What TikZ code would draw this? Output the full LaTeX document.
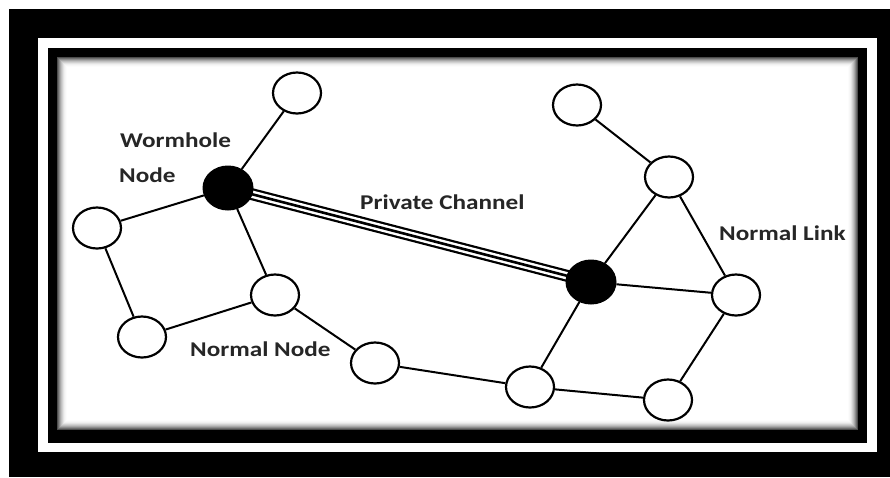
\documentclass[tikz,border=0pt]{standalone}
\usepackage{fontspec}
\setmainfont{Carlito}[FakeStretch=1.2]
\usetikzlibrary{shapes.geometric,backgrounds}
\begin{document}
\begin{tikzpicture}[x=1pt,y=-1pt,
  peer/.style={ellipse, draw=black, line width=2.2pt, fill=white,
               minimum width=48pt, minimum height=41pt, inner sep=0pt},
  hole/.style={ellipse, draw=black, fill=black, line width=1pt,
               minimum width=50pt, minimum height=44pt, inner sep=0pt},
  link/.style={line width=2pt},
  lbl/.style={anchor=base west, inner sep=0pt, text=black!85,
              font=\fontsize{21}{25}\selectfont\bfseries}]

\useasboundingbox (0,0) rectangle (890,477);

% network nodes
\node[peer] (n1) at (297,93)  {};
\node[hole] (w1) at (228,188) {};
\node[peer] (lf) at (97,228)  {};
\node[peer] (md) at (275,295) {};
\node[peer] (bl) at (142,337) {};
\node[peer] (cm) at (375,363) {};
\node[peer] (dn) at (530,387) {};
\node[peer] (en) at (668,400) {};
\node[hole] (w2) at (591,282) {};
\node[peer] (rt) at (736,295) {};
\node[peer] (tp) at (669,177) {};
\node[peer] (tl) at (577,105) {};

% labels
\node[lbl] (t1) at (120,147) {Wormhole};
\node[lbl] (t2) at (119,182) {Node};
\node[lbl] (t3) at (360,209) {Private Channel};
\node[lbl] (t4) at (719,240) {Normal Link};
\node[lbl] (t5) at (190,356) {Normal Node};

% normal links
\draw[link] (n1) -- (w1);
\draw[link] (w1) -- (lf);
\draw[link] (w1) -- (md);
\draw[link] (lf) -- (bl);
\draw[link] (bl) -- (md);
\draw[link] (md) -- (cm);
\draw[link] (cm) -- (dn);
\draw[link] (dn) -- (w2);
\draw[link] (dn) -- (en);
\draw[link] (en) -- (rt);
\draw[link] (w2) -- (rt);
\draw[link] (w2) -- (tp);
\draw[link] (tp) -- (tl);
\draw[link] (tp) -- (rt);

\begin{scope}[on background layer]
  % double frame
  \fill[white] (0,0) rectangle (890,477);
  \fill[black] (9,9) rectangle (890,477);
  \fill[white] (38,38) rectangle (877,452);
  \fill[black] (48,48) rectangle (867,443);
  \fill[white] (57,57) rectangle (858,430);
  % soft inner shadow of the panel
  \foreach \i in {0,...,9} {
    \pgfmathtruncatemacro\g{round(70*(1-\i/10)^2)}
    \draw[black!\g, line width=1.05pt]
      (57.5+\i,57.5+\i) rectangle (857.5-\i,429.5-\i);
  }
  % private channel between the two wormhole nodes
  \draw[line width=12pt] (w1.center) -- (w2.center);
  \draw[white, line width=7.5pt] (w1.center) -- (w2.center);
  \draw[line width=2.6pt] (w1.center) -- (w2.center);
\end{scope}
\end{tikzpicture}
\end{document}
